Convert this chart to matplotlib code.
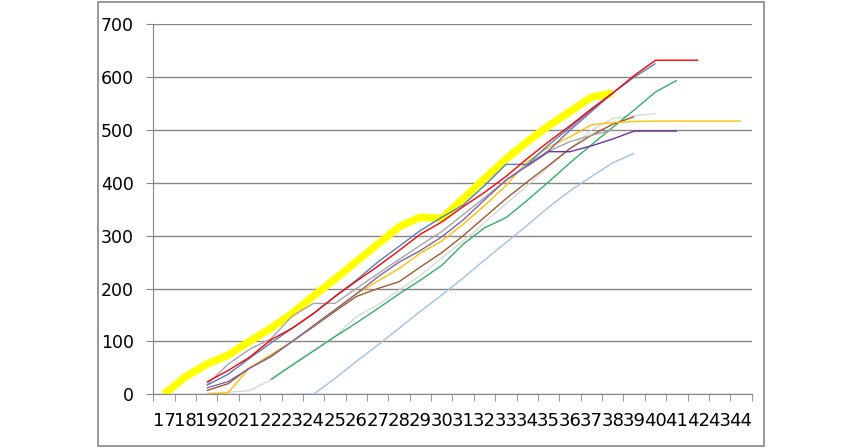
import numpy as np
import matplotlib
matplotlib.use("Agg")
from matplotlib import pyplot as plt
from matplotlib.patches import Rectangle

nan = np.nan

weeks = [str(w) for w in range(17, 45)]

# each series: values from its first week on, padded with nan
yellow = [0, 33, 57, 74, 100, 125, 153, 186, 218, 251, 284, 317, 335, 333,
          370, 408, 445, 478, 508, 535, 562, 570]
red = [23, 45, 70, 103, 125, 153, 185, 214, 242, 272, 303, 326, 355, 382,
       412, 446, 478, 508, 540, 570, 603, 632, 632, 632]
blue = [17, 38, 68, 97, 125, 153, 185, 216, 250, 280, 310, 335, 358, 395,
        435, 435, 472, 505, 538, 570, 600, 626]
purple = [12, 24, 49, 72, 100, 130, 160, 190, 222, 250, 272, 298, 330, 368,
          405, 432, 461, 500, 535, 570]
dark_purple = [432, 459, 459, 470, 483, 498, 498, 498]
orange = [0, 3, 50, 75, 100, 130, 160, 190, 214, 238, 267, 290, 322, 357,
          395, 440, 468, 487, 510, 514, 516, 517, 517, 517, 517, 517]
brown = [7, 20, 50, 71, 100, 128, 157, 185, 200, 213, 241, 268, 300, 335,
         370, 402, 433, 465, 490, 511, 525]
gray = [18, 57, 85, 105, 148, 172, 172, 200, 228, 255, 282, 308, 340, 372,
        405, 435, 460, 478, 490, 500]
light_gray = [2, 4, 7, 27, 57, 83, 110, 147, 169, 197, 225, 258, 290, 325,
              360, 395, 430, 465, 500, 522, 527, 531]
green = [28, 55, 82, 109, 135, 162, 190, 216, 244, 284, 315, 334, 367, 402,
         438, 472, 505, 538, 572, 594]
light_blue = [0, 0, 30, 62, 93, 125, 157, 188, 220, 254, 287, 320, 354, 385,
              412, 438, 456]

# (values, first week, colour, width)
series = [
    (yellow, 17, "#FFFF00", 5.5),
    (light_gray, 19, "#D9D9D9", 1.0),
    (light_blue, 23, "#9DC3E6", 1.0),
    (green, 22, "#33B06A", 1.0),
    (brown, 19, "#9C5B2E", 1.0),
    (orange, 19, "#FFC000", 1.0),
    (gray, 19, "#A5A5A5", 1.0),
    (dark_purple, 34, "#7030A0", 1.0),
    (purple, 19, "#8064A2", 1.0),
    (blue, 19, "#4F81BD", 1.0),
    (red, 19, "#FF0000", 1.0),
]


def pad(values, start):
    full = [nan] * len(weeks)
    i0 = start - 17
    full[i0:i0 + len(values)] = values
    return full


grid_col = "#868686"
plt.rcParams["font.family"] = ["DejaVu Sans"]

fig = plt.figure(figsize=(8.62, 4.48), dpi=100)
fig.patches.append(Rectangle((98 / 862, 2 / 448), 666 / 862, 444 / 448,
                             transform=fig.transFigure, fill=False,
                             edgecolor=grid_col, linewidth=1.2))

ax = fig.add_axes([153.3 / 862, 1 - 394.3 / 448, 598.4 / 862, 370 / 448])
x = np.arange(len(weeks))
for values, start, color, lw in series:
    ax.plot(x, pad(values, start), color=color, linewidth=lw,
            solid_joinstyle="round", solid_capstyle="butt")

ax.set_xlim(-0.5, len(weeks) - 0.5)
ax.set_ylim(0, 700)
ax.set_yticks(range(0, 701, 100))
ax.yaxis.grid(True, color=grid_col, linewidth=1.0)
ax.set_axisbelow(True)

ax.set_xticks(x)
ax.set_xticklabels(weeks)
ax.set_xticks(np.arange(-0.5, len(weeks)), minor=True)
ax.tick_params(axis="x", which="major", length=0, pad=13, labelsize=13)
ax.tick_params(axis="x", which="minor", length=5, color=grid_col, direction="out")
ax.tick_params(axis="y", length=5, color=grid_col, pad=9, labelsize=12.5)

for side in ["top", "right"]:
    ax.spines[side].set_visible(False)
for side in ["left", "bottom"]:
    ax.spines[side].set_color(grid_col)

fig.savefig("out.png", dpi=100)
